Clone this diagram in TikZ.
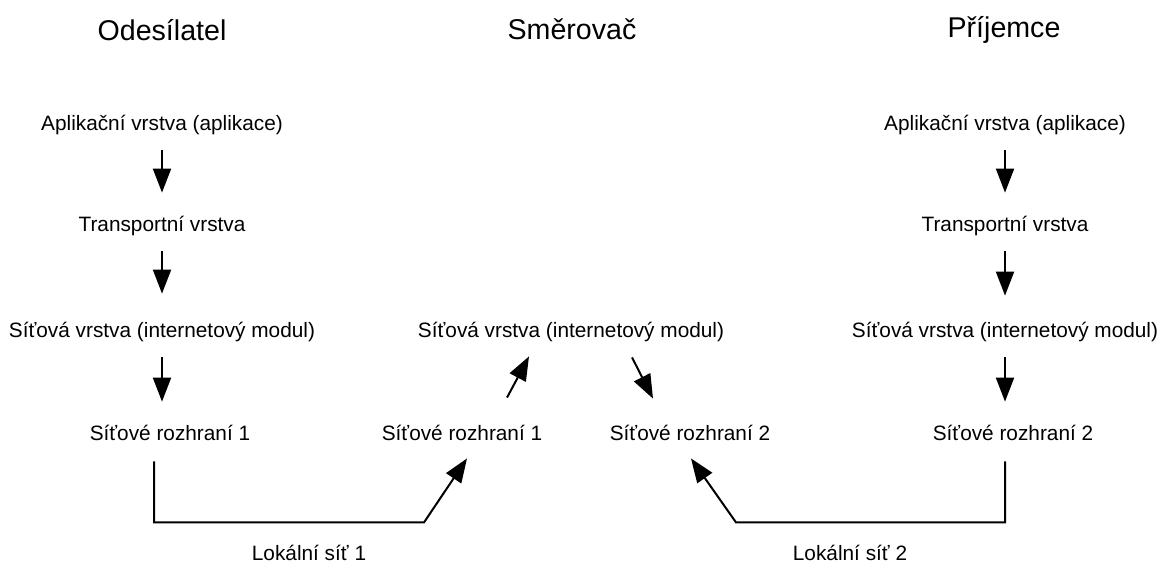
\documentclass[tikz,border=0pt]{standalone}
\usepackage{fontspec}
\setmainfont{Liberation Sans}
\usepackage{tikz}
\usetikzlibrary{arrows.meta, positioning}

\begin{document}
\begin{tikzpicture}[x=0.5pt, y=-0.5pt,
  every node/.style={inner sep=0pt, anchor=base},
  title/.style={font=\fontsize{14.3pt}{17pt}\selectfont},
  layer/.style={font=\fontsize{10.4pt}{12pt}\selectfont, text height=7.5pt, text depth=0pt},
  flow/.style={-{Triangle[length=12pt, width=9pt]}, line width=1pt},
  stackarrow/.style={flow, shorten <=10pt, shorten >=11.5pt}]
\useasboundingbox (0,0) rectangle (1159,564);
% titles
\node[title] (sender) at (162,40) {Odesílatel};
\node[title] (router) at (572,39) {Směrovač};
\node[title] (receiver) at (1004,37) {Příjemce};
% sender stack
\node[layer] (as) at (162,130) {Aplikační vrstva (aplikace)};
\node[layer] (ts) at (162,231) {Transportní vrstva};
\node[layer] (ns) at (162,337) {Síťová vrstva (internetový modul)};
\node[layer] (rs1) at (170,440) {Síťové rozhraní 1};
% router
\node[layer] (nm) at (571,337) {Síťová vrstva (internetový modul)};
\node[layer] (rm1) at (462,440) {Síťové rozhraní 1};
\node[layer] (rm2) at (690,440) {Síťové rozhraní 2};
% receiver stack
\node[layer] (ar) at (1005,130) {Aplikační vrstva (aplikace)};
\node[layer] (tr) at (1005,231) {Transportní vrstva};
\node[layer] (nr) at (1005,337) {Síťová vrstva (internetový modul)};
\node[layer] (rr2) at (1013,440) {Síťové rozhraní 2};
% local networks
\node[layer] (lan1) at (309,560) {Lokální síť 1};
\node[layer] (lan2) at (850,560) {Lokální síť 2};

\draw[stackarrow] (as.south) -- (ts.north);
\draw[stackarrow, shorten >=14pt] (ts.south) -- (ns.north);
\draw[stackarrow] (ns.south) -- ([xshift=-4pt]rs1.north);
\draw[stackarrow] (ar.south) -- (tr.north);
\draw[stackarrow, shorten >=13pt] (tr.south) -- (nr.north);
\draw[stackarrow] (nr.south) -- ([xshift=-4pt]rr2.north);

\draw[flow] ([xshift=22.5pt, yshift=13.5pt]rm1.north) -- ([xshift=-21pt, yshift=-9.5pt]nm.south);
\draw[flow] ([xshift=30.5pt, yshift=-10pt]nm.south) -- ([xshift=-18.5pt, yshift=13pt]rm2.north);

\draw[flow] ([xshift=-8pt, yshift=-10.5pt]rs1.south) -- ++(0,61) -- ++(270,0) -- ([xshift=2.5pt, yshift=-9pt]rm1.south);
\draw[flow] ([xshift=-4pt, yshift=-10.5pt]rr2.south) -- ++(0,61) -- ++(-269,0) -- ([xshift=0.5pt, yshift=-9pt]rm2.south);
\end{tikzpicture}
\end{document}
